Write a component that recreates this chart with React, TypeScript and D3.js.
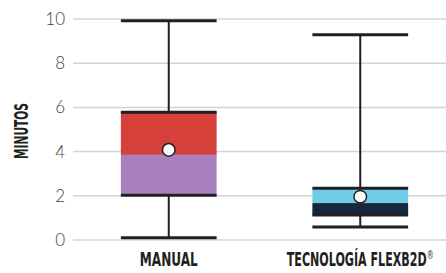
import React, { useEffect, useRef } from 'react';
import * as d3 from 'd3';

const categories = ['MANUAL', 'TECNOLOGÍA FLEXB2D'];
const superscripts = ['', '®'];
const whiskerLow = [0.1, 0.59];
const q1 = [2.02, 1.13];
const median = [3.85, 1.67];
const q3 = [5.78, 2.34];
const whiskerHigh = [9.92, 9.29];
const means = [4.08, 1.96];
const upperColors = ['#d5403a', '#6dcde4'];
const lowerColors = ['#a981bd', '#16263f'];
const yTicks = [0, 2, 4, 6, 8, 10];
const labelWidths = [58, 147];

function App() {
  const svgRef = useRef<SVGSVGElement>(null);

  useEffect(() => {
    const svg = d3.select(svgRef.current);
    svg.selectAll('*').remove();

    const width = 446;
    const height = 273;
    const left = 73;

    const y = d3.scaleLinear().domain([0, 10]).range([240, 19]);
    const x = d3.scaleBand().domain(categories).range([left, 456]).paddingInner(0.5).paddingOuter(0.25);

    svg.attr('width', width).attr('height', height);

    // grid
    svg.append('g')
      .selectAll('line')
      .data(yTicks)
      .enter()
      .append('line')
      .attr('x1', left)
      .attr('x2', width)
      .attr('y1', (d) => y(d))
      .attr('y2', (d) => y(d))
      .attr('stroke', '#d4d4d4')
      .attr('stroke-width', 1.5);

    svg.append('g')
      .selectAll('text')
      .data(yTicks)
      .enter()
      .append('text')
      .attr('x', 65)
      .attr('y', (d) => y(d))
      .attr('dy', '0.35em')
      .attr('text-anchor', 'end')
      .style('font-family', 'Lato, sans-serif')
      .style('font-weight', 300)
      .style('font-size', '17px')
      .attr('fill', '#444')
      .text((d) => d);

    svg.append('text')
      .attr('transform', 'translate(28,131) rotate(-90)')
      .attr('text-anchor', 'middle')
      .attr('textLength', 56)
      .attr('lengthAdjust', 'spacingAndGlyphs')
      .style('font-family', '"DejaVu Sans Condensed", sans-serif')
      .style('font-weight', 'bold')
      .style('font-size', '20px')
      .attr('fill', '#231f20')
      .text('MINUTOS');

    const ink = '#231f20';

    categories.forEach((c, i) => {
      const x0 = x(c)!;
      const bw = x.bandwidth();
      const cx = x0 + bw / 2;
      const g = svg.append('g');

      g.append('line')
        .attr('x1', cx).attr('x2', cx)
        .attr('y1', y(whiskerHigh[i])).attr('y2', y(whiskerLow[i]))
        .attr('stroke', ink).attr('stroke-width', 2);

      g.append('rect')
        .attr('x', x0).attr('width', bw)
        .attr('y', y(q3[i])).attr('height', y(median[i]) - y(q3[i]))
        .attr('fill', upperColors[i]);
      g.append('rect')
        .attr('x', x0).attr('width', bw)
        .attr('y', y(median[i])).attr('height', y(q1[i]) - y(median[i]))
        .attr('fill', lowerColors[i]);

      [whiskerLow[i], q1[i], q3[i], whiskerHigh[i]].forEach((v) => {
        g.append('line')
          .attr('x1', x0).attr('x2', x0 + bw)
          .attr('y1', y(v)).attr('y2', y(v))
          .attr('stroke', ink).attr('stroke-width', 3);
      });

      g.append('circle')
        .attr('cx', cx).attr('cy', y(means[i]))
        .attr('r', 6.3)
        .attr('fill', '#fff')
        .attr('stroke', ink)
        .attr('stroke-width', 1.5);

      const label = g.append('text')
        .attr('x', cx)
        .attr('y', 266)
        .attr('text-anchor', 'middle')
        .attr('textLength', labelWidths[i])
        .attr('lengthAdjust', 'spacingAndGlyphs')
        .style('font-family', '"DejaVu Sans Condensed", sans-serif')
        .style('font-weight', 'bold')
        .style('font-size', '19px')
        .attr('fill', ink);
      label.append('tspan').text(c);
      if (superscripts[i]) {
        label.append('tspan')
          .attr('dy', -7)
          .style('font-size', '12px')
          .style('font-weight', 'normal')
          .text(superscripts[i]);
      }
    });
  }, []);

  return (
    <svg ref={svgRef} style={{ position: 'absolute', left: 0, top: 0 }} />
  );
}

export default App;
